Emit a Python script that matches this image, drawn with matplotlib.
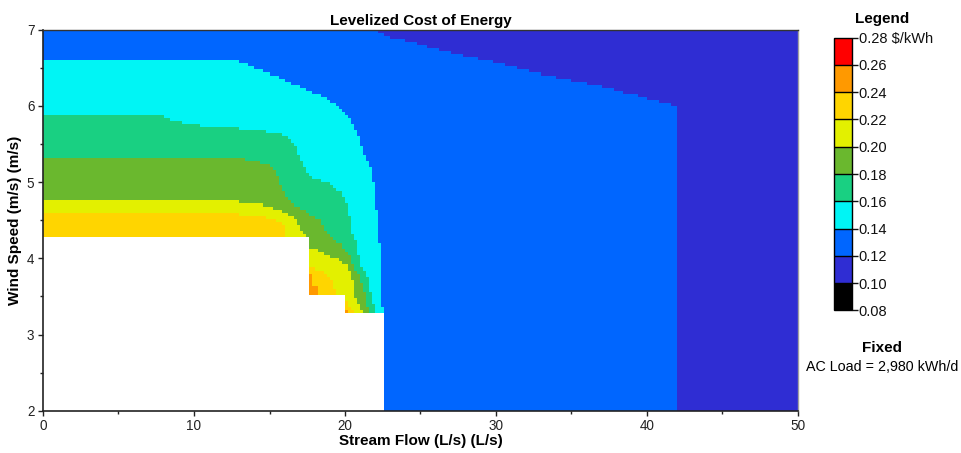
import numpy as np
import matplotlib
matplotlib.use('Agg')
import matplotlib.pyplot as plt
from matplotlib.colors import ListedColormap, BoundaryNorm
from matplotlib.path import Path
import matplotlib.cm as cm

plt.rcParams['font.family'] = ['Liberation Sans', 'DejaVu Sans']

# ---------------- data ----------------
levels = [0.08, 0.10, 0.12, 0.14, 0.16, 0.18, 0.20, 0.22, 0.24, 0.26, 0.28]
level_labels = ['0.08', '0.10', '0.12', '0.14', '0.16', '0.18', '0.20',
                '0.22', '0.24', '0.26', '0.28 \\$/kWh']
band_colors = ['#000000', '#2f2dd3', '#0066ff', '#00f5f5', '#19d082',
               '#6ab82e', '#e3f000', '#ffd500', '#ff9900', '#ff0000']

# Contour boundaries (stream flow L/s, wind speed m/s)
# LCOE >= 0.12 lies left of this line
b012_x = [22.0, 22.3, 22.8, 23.9, 24.8, 25.4, 26.3, 27.2, 28.1, 29.4, 30.1,
          31.3, 32.7, 34.1, 35.4, 37.3, 38.5, 39.4, 40.5, 41.5, 41.95]
b012_y = [7.0, 6.97, 6.91, 6.87, 6.82, 6.78, 6.74, 6.69, 6.65, 6.60, 6.56,
          6.51, 6.43, 6.38, 6.32, 6.25, 6.18, 6.14, 6.07, 6.03, 6.00]
# LCOE >= 0.14
b014_x = [0.0, 12.7, 13.95, 15.27, 17.04, 18.59, 19.58, 20.36, 20.91, 21.35,
          21.8, 22.0, 22.23, 22.35, 22.46, 22.53]
b014_y = [6.61, 6.61, 6.51, 6.40, 6.25, 6.12, 5.99, 5.82, 5.61, 5.32,
          5.18, 4.82, 4.43, 4.01, 3.50, 3.27]
# LCOE >= 0.16
b016_x = [0.0, 7.65, 8.5, 9.75, 13.06, 15.27, 16.16, 16.71, 16.93, 17.26,
          17.6, 18.81, 19.7, 20.1, 20.36, 20.47, 20.8, 21.02, 21.46, 21.8, 22.02]
b016_y = [5.89, 5.89, 5.82, 5.75, 5.70, 5.65, 5.59, 5.48, 5.35, 5.21,
          5.07, 5.00, 4.87, 4.74, 4.52, 4.32, 4.19, 3.88, 3.79, 3.48, 3.27]
# LCOE >= 0.18
b018_x = [0.0, 13.06, 14.4, 15.05, 15.5, 15.72, 16.05, 16.6, 17.26, 18.37,
          18.81, 19.7, 20.36, 20.58, 21.02, 21.24, 21.46, 21.6]
b018_y = [5.31, 5.31, 5.26, 5.22, 5.09, 4.95, 4.81, 4.71, 4.63, 4.50,
          4.32, 4.19, 4.01, 3.88, 3.75, 3.61, 3.39, 3.27]
# LCOE >= 0.20
b020_x = [0.0, 13.06, 14.39, 14.9, 15.94, 16.6, 17.48, 17.7, 18.59, 19.7,
          20.25, 20.47, 20.69, 21.02, 21.2]
b020_y = [4.74, 4.74, 4.71, 4.68, 4.61, 4.54, 4.25, 4.14, 4.06, 3.97,
          3.88, 3.75, 3.48, 3.37, 3.27]
# LCOE >= 0.22 (main band and two small patches)
b022a_x = [0.0, 13.06, 14.39, 14.9, 15.72, 16.05, 16.05]
b022a_y = [4.59, 4.58, 4.56, 4.54, 4.47, 4.39, 4.28]
b022b_x = [17.55, 18.37, 19.03, 19.3, 19.48]
b022b_y = [3.90, 3.84, 3.75, 3.62, 3.52]
b022c_x = [20.03, 20.3, 20.5, 20.6]
b022c_y = [3.45, 3.38, 3.31, 3.27]
# LCOE >= 0.24 (two small patches)
b024a_x = [17.55, 17.9, 17.9, 18.3, 18.3]
b024a_y = [3.78, 3.78, 3.64, 3.64, 3.52]
b024b_x = [20.03, 20.3, 20.3]
b024b_y = [3.33, 3.33, 3.27]
# Infeasible (no result) region outline
nores_x = [0.0, 0.0, 17.55, 17.55, 20.03, 20.03, 22.53, 22.53]
nores_y = [2.0, 4.28, 4.28, 3.52, 3.52, 3.27, 3.27, 2.0]

band_bounds = [
    (0.12, [(b012_x, b012_y)]),
    (0.14, [(b014_x, b014_y)]),
    (0.16, [(b016_x, b016_y)]),
    (0.18, [(b018_x, b018_y)]),
    (0.20, [(b020_x, b020_y)]),
    (0.22, [(b022a_x, b022a_y), (b022b_x, b022b_y), (b022c_x, b022c_y)]),
    (0.24, [(b024a_x, b024a_y), (b024b_x, b024b_y)]),
]

x_min, x_max, y_min, y_max = 0.0, 50.0, 2.0, 7.0

# ---------------- grid ----------------
x_edges = np.linspace(x_min, x_max, 251)
y_edges = np.linspace(y_min, y_max, 126)
xc = 0.5 * (x_edges[:-1] + x_edges[1:])
yc = 0.5 * (y_edges[:-1] + y_edges[1:])
XX, YY = np.meshgrid(xc, yc)
pts = np.column_stack([XX.ravel(), YY.ravel()])

Z = np.full(XX.shape, levels[1] + 0.01)
for lev, polys in band_bounds:
    for bx, by in polys:
        verts = [(x_min, y_min), (x_min, by[0])] + list(zip(bx, by)) + [(bx[-1], y_min)]
        inside = Path(verts).contains_points(pts).reshape(XX.shape)
        Z[inside] = lev + 0.01
white = Path(list(zip(nores_x, nores_y))).contains_points(pts).reshape(XX.shape)
Z[white] = np.nan
Z = np.ma.masked_invalid(Z)

cmap = ListedColormap(band_colors)
norm = BoundaryNorm(levels, cmap.N)

# ---------------- figure ----------------
W, H = 962, 453
fig = plt.figure(figsize=(W / 100, H / 100), dpi=100)
ax = fig.add_axes([43 / W, (H - 410.7) / H, 755 / W, (410.7 - 29.8) / H])
ax.pcolormesh(x_edges, y_edges, Z, cmap=cmap, norm=norm, shading='flat',
              antialiased=False, edgecolors='none')
ax.set_xlim(x_min, x_max)
ax.set_ylim(y_min, y_max)

ax.set_xticks([0, 10, 20, 30, 40, 50])
ax.set_xticks([5, 15, 25, 35, 45], minor=True)
ax.set_yticks([2, 3, 4, 5, 6, 7])
ax.set_yticks([2.5, 3.5, 4.5, 5.5, 6.5], minor=True)
ax.tick_params(which='major', length=3.6, width=1, pad=2.5, labelsize=9.75,
               colors='#222222')
ax.tick_params(which='minor', length=2.2, width=1, colors='#222222')

for s in ['left', 'bottom']:
    ax.spines[s].set_color('#222222')
    ax.spines[s].set_linewidth(1.2)
ax.spines['top'].set_color('#333333')
ax.spines['top'].set_linewidth(1.0)
ax.spines['right'].set_color('#a0a0a0')
ax.spines['right'].set_linewidth(1.0)

ax.set_title('Levelized Cost of Energy', fontsize=11, fontweight='bold', pad=3.6)
ax.set_xlabel('Stream Flow (L/s) (L/s)', fontsize=11, fontweight='bold', va='center')
ax.xaxis.set_label_coords(0.5, -(441 - 410.7) / (410.7 - 29.8))
ax.set_ylabel('Wind Speed (m/s) (m/s)', fontsize=11, fontweight='bold', va='center')
ax.yaxis.set_label_coords(-(43 - 15) / 755, 0.5)

# ---------------- legend colorbar ----------------
cax = fig.add_axes([834.3 / W, (H - 310.3) / H, 17.4 / W, 272.6 / H])
sm = cm.ScalarMappable(norm=norm, cmap=cmap)
cb = fig.colorbar(sm, cax=cax, ticks=levels, drawedges=True)
cb.outline.set_edgecolor('#000000')
cb.outline.set_linewidth(1.0)
cb.dividers.set_color('#000000')
cb.dividers.set_linewidth(1.0)
cax.set_yticklabels(level_labels)
cax.tick_params(length=4.0, width=1, pad=1, labelsize=10.5, colors='#111111')

fig.text(882.5 / W, 1 - 19 / H, 'Legend', ha='center', va='center',
         fontsize=11, fontweight='bold')
fig.text(882.5 / W, 1 - 347.5 / H, 'Fixed', ha='center', va='center',
         fontsize=11, fontweight='bold')
fig.text(882.5 / W, 1 - 367 / H, 'AC Load = 2,980 kWh/d', ha='center', va='center',
         fontsize=10.25)

fig.savefig('out.png', dpi=100)
